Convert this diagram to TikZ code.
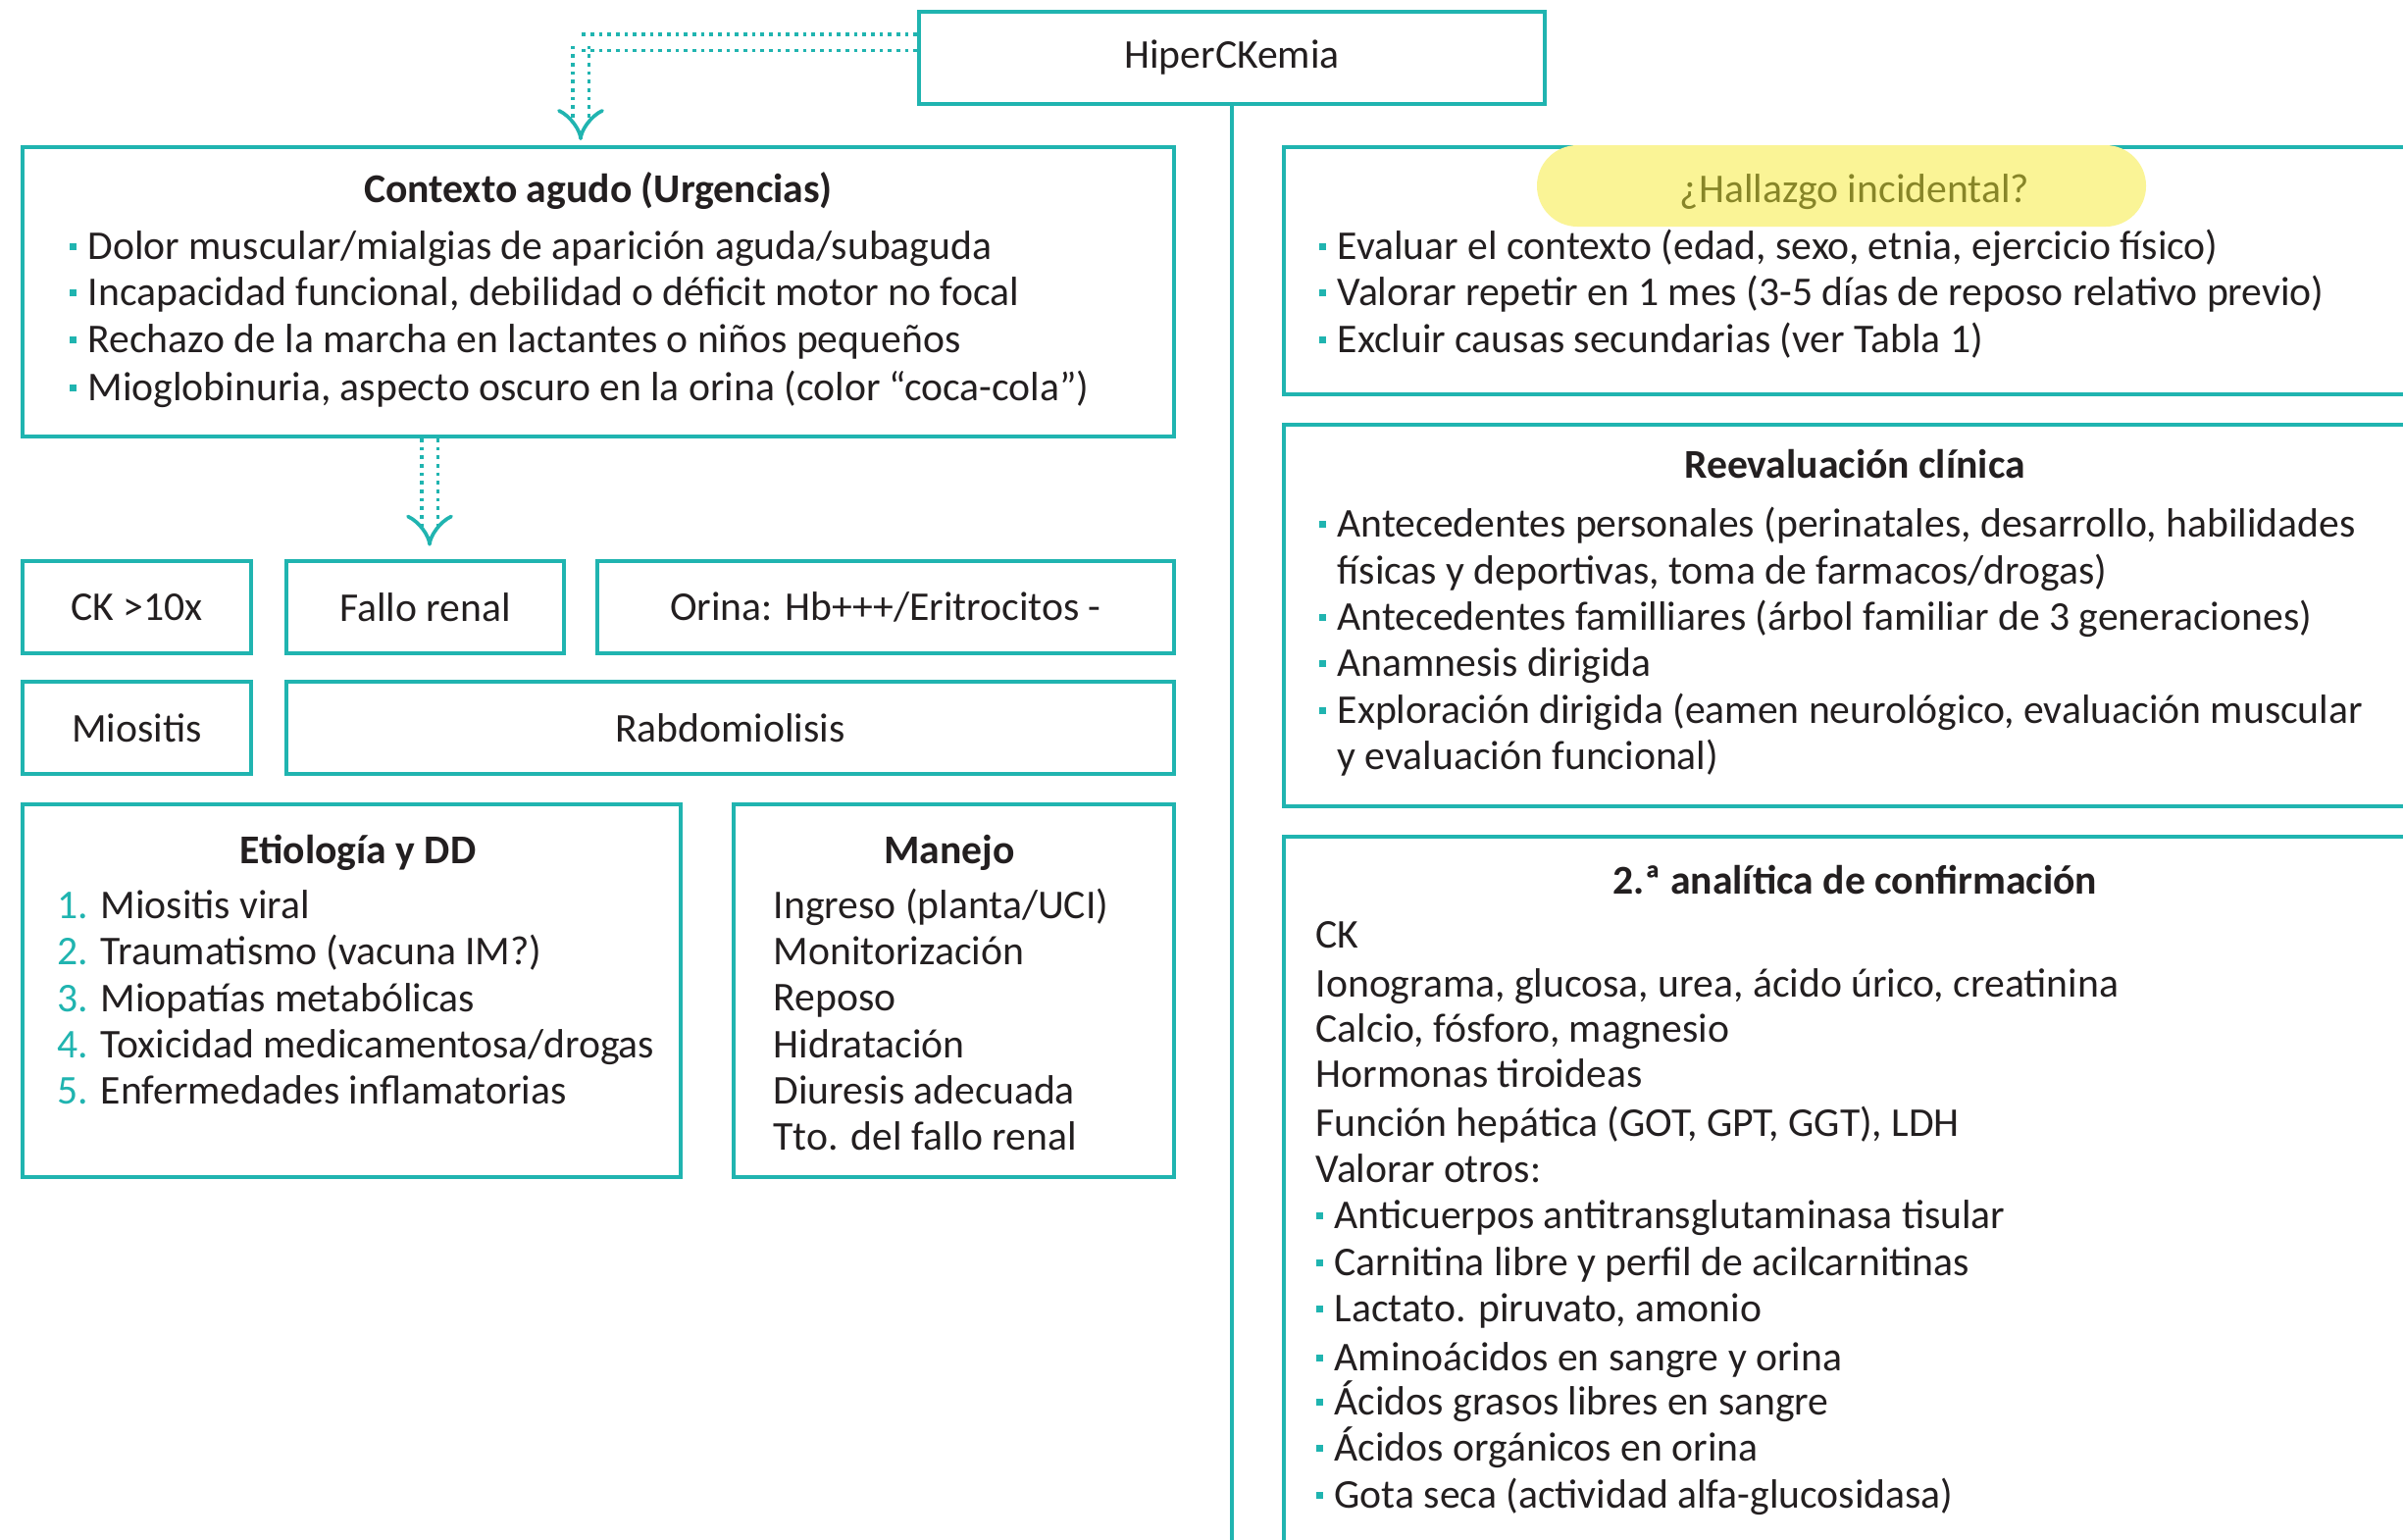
\documentclass[tikz,border=0pt]{standalone}
\usepackage{fontspec}
\setmainfont{Carlito}
\usetikzlibrary{fit,arrows.meta}
\definecolor{teal1}{RGB}{32,180,176}
\definecolor{txt}{RGB}{35,31,32}
\definecolor{hl}{RGB}{250,244,150}
\definecolor{olive1}{RGB}{135,133,40}
\newcommand{\bul}{\textcolor{teal1}{\raisebox{0.45ex}{\rule{2.1pt}{2.1pt}}}\hspace{3.6pt}}
\newcommand{\num}[1]{\textcolor{teal1}{#1}}
\begin{document}
\begin{tikzpicture}[x=0.3pt,y=-0.3pt,
  font=\fontsize{12.5}{14.2}\selectfont, text=txt,
  box/.style={draw=teal1, line width=1.2pt, inner sep=0pt},
  ln/.style={anchor=base west, inner sep=0pt},
  lbl/.style={inner sep=0pt},
  ttl/.style={anchor=base, inner sep=0pt, font=\fontsize{12.5}{14.2}\selectfont\bfseries},
  dotarrow/.style={draw=teal1, line width=1.1pt, double=white, double distance=3.9pt,
     dash pattern=on 1.1pt off 1.5pt, -{Implies[length=5pt]}},
  conn/.style={draw=teal1, line width=1.2pt}]
\useasboundingbox (0,0) rectangle (2450,1569);
\clip (0,0) rectangle (2450,1569);
\fill[white] (0,0) rectangle (2450,1569);

% top node
\node[box, fit={(937,12) (1575,106)}] (hiper) {};
\node[lbl] (hipert) at (hiper.center) {HiperCKemia};
\coordinate (bottomc) at (1256,1600);
\draw[conn] (hiper.south) -- (bottomc);

% left column boxes
\node[box, fit={(23,150) (1197,445)}] (ctx) {};
\node[box, fit={(23,572) (256,666)}] (ck) {};
\node[box, fit={(292,572) (575,666)}] (fallo) {};
\node[box, fit={(609,572) (1197,666)}] (orina) {};
\node[box, fit={(23,695) (256,789)}] (miositis) {};
\node[box, fit={(292,695) (1197,789)}] (rabdo) {};
\node[box, fit={(23,820) (694,1200)}] (etio) {};
\node[box, fit={(748,820) (1197,1200)}] (manejo) {};
\node[lbl] (ckt) at (ck.center) {CK >10x};
\node[lbl] (fallot) at (fallo.center) {Fallo renal};
\node[lbl] (orinat) at (orina.center) {Orina: Hb+++/Eritrocitos -};
\node[lbl] (miositist) at (miositis.center) {Miositis};
\node[lbl] (rabdot) at (rabdo.center) {Rabdomiolisis};

% right column boxes
\node[box, fit={(1309,150) (2480,402)}] (hall) {};
\node[box, fit={(1309,433) (2480,822)}] (reev) {};
\node[box, fit={(1309,853) (2480,1620)}] (anal) {};

% dotted connectors
\draw[dotarrow, shorten >=1.5pt] (hiper.west |- 0,43) -| (ctx.north -| 592,0);
\draw[dotarrow, shorten >=4pt] (ctx.south -| 438,0) -- (fallo.north -| 438,0);

% Contexto agudo
\node[ttl] (ctxt) at (610,206) {Contexto agudo (Urgencias)};
\foreach \t/\y [count=\i] in {
  {Dolor muscular/mialgias de aparición aguda/subaguda}/264,
  {Incapacidad funcional, debilidad o déficit motor no focal}/311,
  {Rechazo de la marcha en lactantes o niños pequeños}/359,
  {Mioglobinuria, aspecto oscuro en la orina (color “coca-cola”)}/408}
  \node[ln] (ctxl\i) at (70,\y) {\bul\t};

% Etiologia
\node[ttl] (etiot) at (365,880) {Etiología y DD};
\foreach \n/\t/\y [count=\i] in {
  1./{Miositis viral}/936,
  2./{Traumatismo (vacuna IM?)}/983,
  3./{Miopatías metabólicas}/1031,
  4./{Toxicidad medicamentosa/drogas}/1078,
  5./{Enfermedades inflamatorias}/1125}
  {\node[ln] (etion\i) at (58,\y) {\num{\n}};
   \node[ln] (etiol\i) at (102,\y) {\t};}

% Manejo
\node[ttl] (manejot) at (968,880) {Manejo};
\foreach \t/\y [count=\i] in {
  {Ingreso (planta/UCI)}/936,
  {Monitorización}/983,
  {Reposo}/1030,
  {Hidratación}/1078,
  {Diuresis adecuada}/1125,
  {Tto. del fallo renal}/1172}
  \node[ln] (manejol\i) at (788,\y) {\t};

% Hallazgo incidental
\node[fill=hl, rounded corners=12.4pt, inner sep=0pt, fit={(1567,148) (2188,231)}] (hlbg) {};
\node[anchor=base, inner sep=0pt, text=olive1] (hallt) at (1891,206) {¿Hallazgo incidental?};
\foreach \t/\y [count=\i] in {
  {Evaluar el contexto (edad, sexo, etnia, ejercicio físico)}/264,
  {Valorar repetir en 1 mes (3-5 días de reposo relativo previo)}/311,
  {Excluir causas secundarias (ver Tabla 1)}/359}
  \node[ln] (halll\i) at (1344,\y) {\bul\t};

% Reevaluacion clinica
\node[ttl] (reevt) at (1891,487) {Reevaluación clínica};
\foreach \t/\y [count=\i] in {
  {\bul Antecedentes personales (perinatales, desarrollo, habilidades}/547,
  {\phantom{\bul}físicas y deportivas, toma de farmacos/drogas)}/595,
  {\bul Antecedentes familliares (árbol familiar de 3 generaciones)}/642,
  {\bul Anamnesis dirigida}/689,
  {\bul Exploración dirigida (eamen neurológico, evaluación muscular}/737,
  {\phantom{\bul}y evaluación funcional)}/784}
  \node[ln] (reevl\i) at (1344,\y) {\t};

% 2.a analitica
\node[ttl] (analt) at (1891,911) {2.ª analítica de confirmación};
\foreach \t/\y [count=\i] in {
  {CK}/966,
  {Ionograma, glucosa, urea, ácido úrico, creatinina}/1016,
  {Calcio, fósforo, magnesio}/1062,
  {Hormonas tiroideas}/1108,
  {Función hepática (GOT, GPT, GGT), LDH}/1158,
  {Valorar otros:}/1205,
  {\bul Anticuerpos antitransglutaminasa tisular}/1252,
  {\bul Carnitina libre y perfil de acilcarnitinas}/1300,
  {\bul Lactato. piruvato, amonio}/1347,
  {\bul Aminoácidos en sangre y orina}/1397,
  {\bul Ácidos grasos libres en sangre}/1442,
  {\bul Ácidos orgánicos en orina}/1489,
  {\bul Gota seca (actividad alfa-glucosidasa)}/1537}
  \node[ln] (anall\i) at (1341,\y) {\t};
\end{tikzpicture}
\end{document}
